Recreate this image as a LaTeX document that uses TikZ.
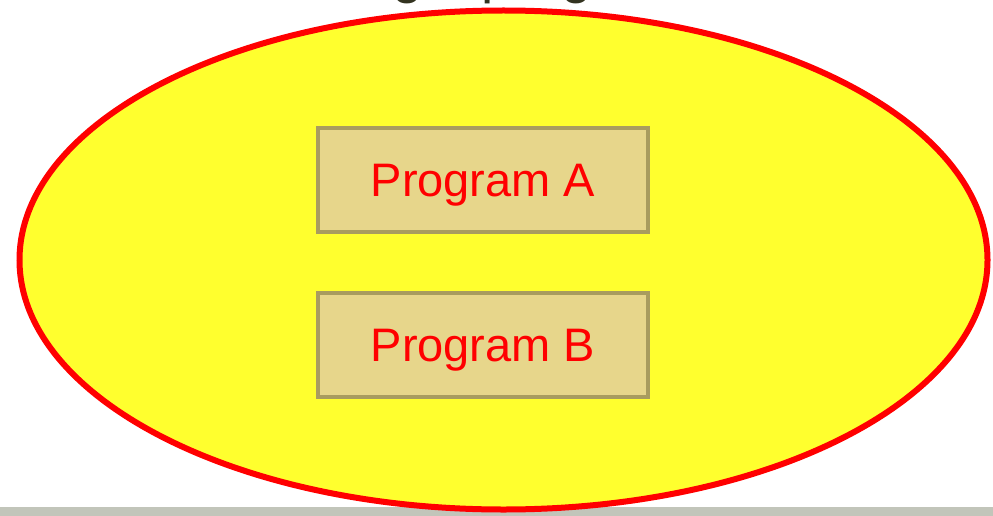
\documentclass[tikz,border=0pt]{standalone}
\usepackage{fontspec}
\setmainfont{Liberation Sans}
\usetikzlibrary{shapes.geometric}
\definecolor{ellfill}{HTML}{FFFF2E}
\definecolor{ellline}{HTML}{FF0000}
\definecolor{boxfill}{HTML}{E7D68B}
\definecolor{boxline}{HTML}{A99C5F}
\definecolor{barcol}{HTML}{C2C5BA}
\definecolor{titlecol}{HTML}{333320}
\tikzset{
  progbox/.style={draw=boxline, line width=4pt, fill=boxfill, minimum width=330pt, minimum height=104pt, inner sep=0pt, text depth=0pt, text=red, font=\fontsize{47}{56}\selectfont},
}
\begin{document}
\begin{tikzpicture}[x=1pt,y=-1pt]
\useasboundingbox (0,0) rectangle (993,516);
\clip (0,0) rectangle (993,516);
\fill[barcol] (0,507) rectangle (993,516);
\node[text=titlecol, font=\fontsize{55}{66}\selectfont, anchor=base] (title) at (500,-7.5) {Single program};
\node[ellipse, draw=ellline, line width=6pt, fill=ellfill, minimum width=968pt, minimum height=499pt, inner sep=0pt] (mem) at (503.5,260) {};
\node[progbox] (pa) at (483,180) {Program A};
\node[progbox] (pb) at (483,345) {Program B};
\end{tikzpicture}
\end{document}
